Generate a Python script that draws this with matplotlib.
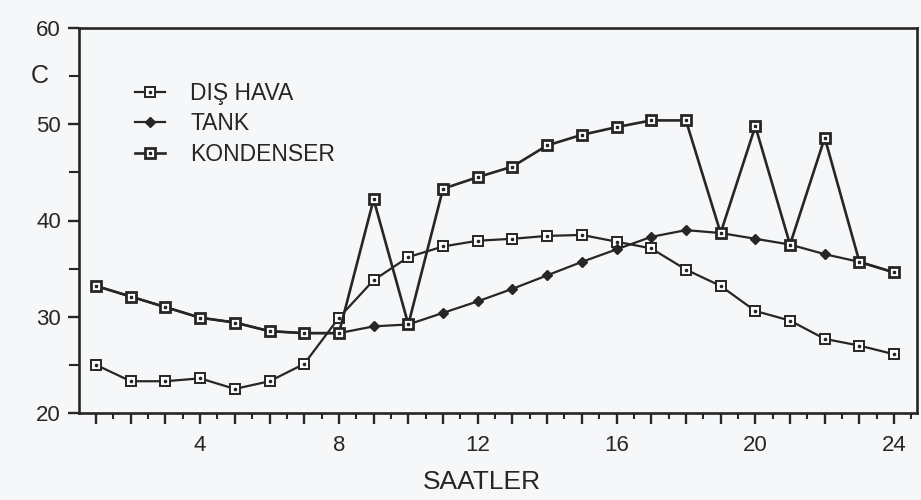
import matplotlib
matplotlib.use('Agg')
import matplotlib.pyplot as plt
from matplotlib.ticker import MultipleLocator
from matplotlib.legend_handler import HandlerTuple

plt.rcParams['font.family'] = ['Liberation Sans', 'DejaVu Sans']

# hourly temperatures (C)
hours = [1, 2, 3, 4, 5, 6, 7, 8, 9, 10, 11, 12,
         13, 14, 15, 16, 17, 18, 19, 20, 21, 22, 23, 24]
dis_hava = [25.0, 23.3, 23.3, 23.6, 22.5, 23.3, 25.1, 29.9, 33.8, 36.2, 37.3, 37.9,
            38.1, 38.4, 38.5, 37.8, 37.1, 34.9, 33.2, 30.6, 29.6, 27.7, 27.0, 26.1]
tank = [33.2, 32.1, 31.0, 29.9, 29.4, 28.5, 28.3, 28.3, 29.0, 29.2, 30.4, 31.6,
        32.9, 34.3, 35.7, 37.0, 38.3, 39.0, 38.7, 38.1, 37.5, 36.5, 35.7, 34.6]
kondenser = [33.2, 32.1, 31.0, 29.9, 29.4, 28.5, 28.3, 28.3, 42.2, 29.2, 43.3, 44.5,
             45.6, 47.8, 48.9, 49.7, 50.4, 50.4, 38.7, 49.8, 37.5, 48.6, 35.7, 34.6]

x_ticks = [4, 8, 12, 16, 20, 24]
y_ticks = [20, 30, 40, 50, 60]

ink = '#262626'
bg = '#f6f7f9'

fig = plt.figure(figsize=(9.21, 5.0), dpi=100, facecolor=bg)
ax = fig.add_axes([0.0858, 0.174, 0.9099, 0.770], facecolor=bg)

# --- series ---
l_dis, = ax.plot(hours, dis_hava, color=ink, lw=1.6, marker='s', ms=7,
                 mfc='white', mec=ink, mew=1.4, zorder=3)
d_dis, = ax.plot(hours, dis_hava, ls='none', marker='o', ms=1.6,
                 color=ink, zorder=4)
l_tank, = ax.plot(hours, tank, color=ink, lw=1.6, marker='D', ms=5.5,
                  mfc=ink, mec=ink, zorder=3)
l_kon, = ax.plot(hours, kondenser, color=ink, lw=1.9, marker='s', ms=7.5,
                 mfc='white', mec=ink, mew=2.0, zorder=5)
d_kon, = ax.plot(hours, kondenser, ls='none', marker='s', ms=1.8,
                 color=ink, zorder=6)

# --- axes ---
ax.set_xlim(0.51, 24.66)
ax.set_ylim(20, 60)
ax.xaxis.set_minor_locator(MultipleLocator(0.5))
ax.set_yticks(y_ticks)
ax.yaxis.set_minor_locator(MultipleLocator(5))

# every hour gets a long tick, halves a short one
ax.set_xticks(hours)
ax.set_xticklabels([str(h) if h in x_ticks else '' for h in hours])

ax.tick_params(axis='x', which='major', direction='out', length=8, width=1.7,
               colors=ink, labelsize=16, pad=8)
ax.tick_params(axis='x', which='minor', direction='out', length=4, width=1.5,
               colors=ink)
ax.tick_params(axis='y', which='major', direction='out', length=8, width=1.7,
               colors=ink, labelsize=16, pad=5)
ax.tick_params(axis='y', which='minor', direction='out', length=7, width=1.5,
               colors=ink)

for sp in ax.spines.values():
    sp.set_color(ink)
    sp.set_linewidth(1.9)

ax.set_xlabel('SAATLER', fontsize=19, color=ink)
ax.xaxis.set_label_coords(0.481, -0.148)
ax.text(-0.047, 55, 'C', transform=ax.get_yaxis_transform(), fontsize=18,
        color=ink, ha='center', va='center')

# --- legend ---
leg = ax.legend([(l_dis, d_dis), l_tank, (l_kon, d_kon)],
                ['DIŞ HAVA', 'TANK', 'KONDENSER'],
                handler_map={tuple: HandlerTuple(ndivide=1)},
                loc='upper left', bbox_to_anchor=(0.067, 0.86),
                borderaxespad=0, borderpad=0, frameon=False,
                fontsize=16.5, handlelength=1.3, handletextpad=1.1,
                labelspacing=0.32)
for t in leg.get_texts():
    t.set_color(ink)

fig.savefig('out.png', dpi=100, facecolor=bg)
